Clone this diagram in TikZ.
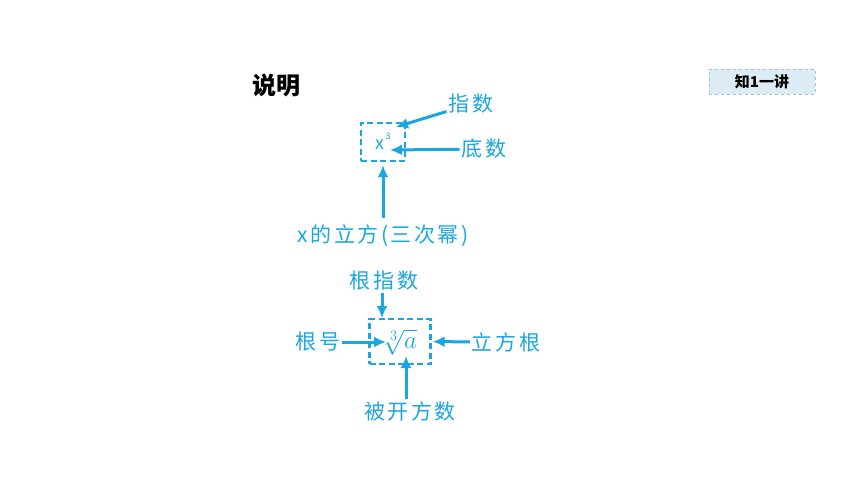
\documentclass[tikz,border=0pt]{standalone}
\usepackage{fontspec}
\setmainfont{Noto Sans CJK SC}
\newfontfamily\cjkfont[LetterSpace=12]{Noto Sans CJK SC}
\usetikzlibrary{arrows.meta}
\definecolor{skyblue}{HTML}{1AA6E0}
\definecolor{badgefill}{HTML}{DCEBF4}
\definecolor{badgeline}{HTML}{9CC3E0}
\begin{document}
\begin{tikzpicture}[x=1pt,y=-1pt]
		\tikzset{word/.style = {text=skyblue,font=\cjkfont\fontsize{21}{21}\selectfont,inner sep=2pt}}
		\tikzset{frame/.style = {draw=skyblue,dash pattern=on 6pt off 3.5pt,line width=2.4pt}}
		\tikzset{edge/.style = {-{Latex[length=12pt,width=11pt]},draw=skyblue,line width=3pt}}
		\useasboundingbox (0,0) rectangle (860,484);
		% heading and badge
		\node[font=\fontsize{24}{24}\selectfont\bfseries] (title) at (276,86) {说明};
		\node[draw=badgeline,dashed,fill=badgefill,minimum width=106,minimum height=25,font=\fontsize{15}{15}\selectfont\bfseries] (badge) at (762,81.5) {知1一讲};
		% power
		\node[frame,minimum width=44,minimum height=38] (powbox) at (383,142) {};
		\node[text=skyblue,font=\fontsize{18}{18}\selectfont,inner sep=0pt] (base) at (380,145) {x};
		\node[text=skyblue,font=\fontsize{9}{9}\selectfont,inner sep=0pt] (expo) at (388,136) {3};
		\node[word] (zhishu) at (471,104) {指数};
		\node[word] (dishu) at (484,149) {底数};
		\node[word] (lifang) at (383,236) {x的立方(三次幂)};
		\coordinate (expotip) at (396,127);
		\coordinate (basetip) at (390,150);
		\path[edge] (zhishu) -- (expotip);
		\path[edge] (dishu) -- (basetip);
		\path[edge,shorten <=5pt,shorten >=3pt] (lifang) -- (powbox);
		% cube root
		\node[frame,minimum width=61,minimum height=45] (rootbox) at (400,341.5) {};
		\node[text=skyblue,font=\fontsize{28}{28}\selectfont,inner sep=0pt] (radical) at (400,342) {$\sqrt[3]{a}$};
		\node[word] (genzhishu) at (384,281) {根指数};
		\node[word] (genhao) at (318,342) {根号};
		\node[word] (lifanggen) at (506,342) {立方根};
		\node[word] (beikai) at (410,411) {被开方数};
		\coordinate (indextip) at (382,318);
		\coordinate (signtip) at (386,342);
		\coordinate (radtip) at (406,356);
		\path[edge] (genzhishu.south -| indextip) -- (indextip);
		\path[edge] (genhao) -- (signtip);
		\path[edge,shorten >=1pt] (lifanggen) -- (rootbox);
		\path[edge] (beikai.north -| radtip) -- (radtip);
	\end{tikzpicture}
\end{document}
